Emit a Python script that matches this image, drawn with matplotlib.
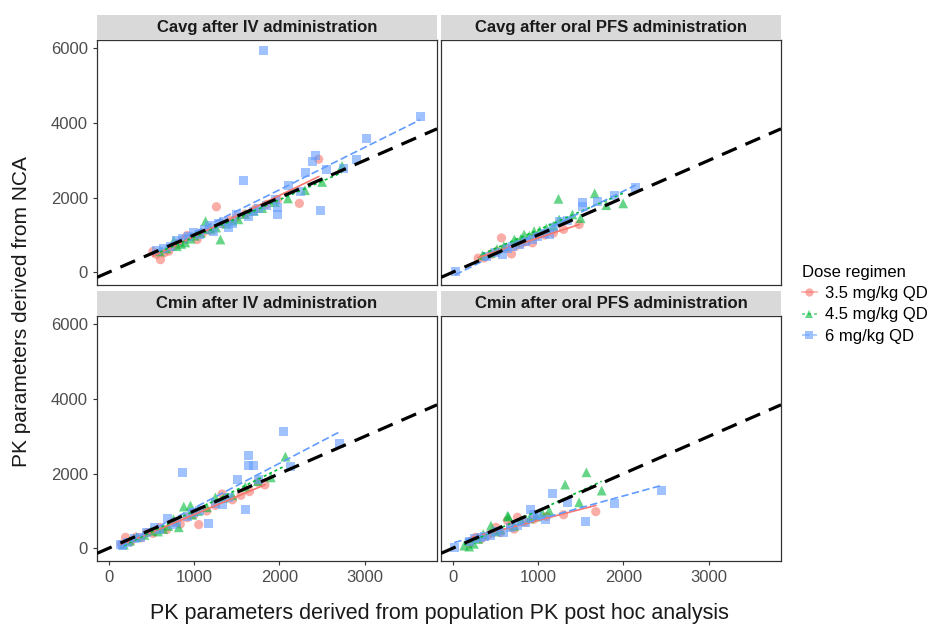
import numpy as np
import matplotlib.pyplot as plt
from matplotlib.lines import Line2D

plt.rcParams['font.family'] = ['Liberation Sans', 'DejaVu Sans']

dose_labels = ['3.5 mg/kg QD', '4.5 mg/kg QD', '6 mg/kg QD']
panel_titles = ['Cavg after IV administration', 'Cavg after oral PFS administration',
                'Cmin after IV administration', 'Cmin after oral PFS administration']
x_ticks = [0, 1000, 2000, 3000]
y_ticks = [0, 2000, 4000, 6000]

# Cavg after IV
cavg_iv_red_x = [520, 560, 608, 650, 705, 760, 820, 880, 920, 1037, 1100, 1180, 1263, 1330, 1420, 1500, 1600, 1720, 1850, 1980, 2234, 2460]
cavg_iv_red_y = [560, 480, 340, 520, 565, 700, 780, 880, 986, 879, 1050, 1130, 1756, 1300, 1400, 1480, 1560, 1700, 1820, 1950, 1847, 3029]
cavg_iv_green_x = [600, 680, 764, 800, 850, 900, 960, 1010, 1080, 1135, 1200, 1260, 1310, 1380, 1450, 1520, 1600, 1700, 1800, 1950, 2100, 2300, 2500, 2733]
cavg_iv_green_y = [560, 640, 852, 700, 760, 800, 900, 980, 1050, 1371, 1150, 1200, 879, 1300, 1380, 1420, 1560, 1650, 1720, 1880, 1980, 2200, 2420, 2849]
cavg_iv_blue_x = [560, 640, 720, 800, 870, 940, 1000, 1060, 1120, 1180, 1230, 1290, 1350, 1400, 1450, 1500, 1583, 1640, 1700, 1760, 1817, 1850,
                  1950, 1973, 1973, 2109, 2245, 2304, 2382, 2421, 2480, 2557, 2752, 2908, 3025, 3649]
cavg_iv_blue_y = [580, 640, 700, 840, 900, 950, 1080, 1000, 1150, 1250, 1100, 1300, 1350, 1200, 1320, 1550, 2464, 1500, 1620, 1700, 5940, 1800,
                  1950, 1729, 1550, 2339, 2177, 2670, 2957, 3118, 1667, 2760, 2777, 3029, 3584, 4167]

# Cavg after oral PFS
cavg_oral_red_x = [300, 370, 450, 520, 573, 620, 690, 740, 800, 860, 936, 975, 1080, 1180, 1300, 1482]
cavg_oral_red_y = [380, 385, 480, 560, 922, 640, 492, 700, 760, 820, 788, 968, 1000, 1050, 1150, 1281]
cavg_oral_green_x = [351, 450, 520, 600, 722, 740, 800, 838, 900, 955, 1020, 1100, 1180, 1240, 1248, 1404, 1500, 1664, 1800, 1997]
cavg_oral_green_y = [457, 520, 620, 700, 879, 820, 900, 1013, 980, 1102, 1120, 1180, 1250, 1970, 1416, 1550, 1450, 2116, 1800, 1847]
cavg_oral_blue_x = [30, 400, 500, 585, 640, 700, 780, 850, 936, 1000, 1080, 1131, 1180, 1248, 1350, 1520, 1520, 1700, 1900, 2144]
cavg_oral_blue_y = [30, 420, 520, 476, 650, 700, 745, 820, 879, 950, 1050, 1013, 1200, 1371, 1400, 1770, 1863, 1900, 2050, 2266]

# Cmin after IV
cmin_iv_red_x = [150, 199, 260, 320, 380, 450, 520, 600, 680, 760, 840, 920, 1000, 1056, 1150, 1250, 1330, 1450, 1550, 1650, 1750, 1830]
cmin_iv_red_y = [110, 295, 180, 300, 280, 420, 400, 560, 500, 700, 650, 820, 900, 635, 1000, 1150, 1456, 1300, 1420, 1520, 1770, 1700]
cmin_iv_green_x = [180, 250, 330, 420, 500, 580, 640, 700, 760, 822, 881, 959, 980, 1050, 1150, 1251, 1350, 1450, 1600, 1750, 1900, 2070]
cmin_iv_green_y = [100, 200, 300, 360, 470, 450, 520, 600, 780, 563, 1118, 1145, 900, 1000, 1100, 1367, 1350, 1420, 1650, 1800, 1900, 2458]
cmin_iv_blue_x = [140, 160, 220, 300, 380, 450, 542, 600, 686, 750, 800, 862, 930, 1000, 1060, 1173, 1250, 1330, 1400, 1505,
                  1602, 1641, 1641, 1699, 1750, 2050, 2129, 2702]
cmin_iv_blue_y = [99, 72, 150, 250, 300, 420, 563, 500, 788, 650, 700, 2038, 850, 950, 1000, 670, 1200, 1172, 1350, 1831,
                  1027, 2500, 2232, 2232, 1850, 3137, 2190, 2815]

# Cmin after oral PFS
cmin_oral_red_x = [200, 272, 331, 400, 460, 507, 560, 643, 680, 722, 760, 850, 950, 1100, 1300, 1677]
cmin_oral_red_y = [130, 295, 250, 320, 400, 563, 420, 742, 600, 515, 832, 700, 780, 850, 900, 983]
cmin_oral_green_x = [137, 195, 250, 300, 360, 449, 500, 560, 643, 655, 720, 800, 900, 980, 1050, 1131, 1318, 1482, 1567, 1746]
cmin_oral_green_y = [72, 46, 120, 250, 380, 609, 450, 500, 871, 850, 600, 750, 800, 850, 950, 1011, 1708, 1233, 2037, 1547]
cmin_oral_blue_x = [20, 200, 260, 330, 380, 449, 520, 600, 680, 760, 850, 916, 950, 1000, 1091, 1170, 1345, 1559, 1891, 2448]
cmin_oral_blue_y = [27, 170, 250, 300, 320, 340, 460, 420, 550, 600, 700, 1027, 900, 850, 760, 1456, 1233, 724, 1188, 1547]

panel_data = [
    [(cavg_iv_red_x, cavg_iv_red_y), (cavg_iv_green_x, cavg_iv_green_y), (cavg_iv_blue_x, cavg_iv_blue_y)],
    [(cavg_oral_red_x, cavg_oral_red_y), (cavg_oral_green_x, cavg_oral_green_y), (cavg_oral_blue_x, cavg_oral_blue_y)],
    [(cmin_iv_red_x, cmin_iv_red_y), (cmin_iv_green_x, cmin_iv_green_y), (cmin_iv_blue_x, cmin_iv_blue_y)],
    [(cmin_oral_red_x, cmin_oral_red_y), (cmin_oral_green_x, cmin_oral_green_y), (cmin_oral_blue_x, cmin_oral_blue_y)],
]

colors = ['#F8766D', '#00BA38', '#619CFF']
markers = ['o', '^', 's']
sizes = [44, 50, 42]
line_styles = ['-', (0, (1.8, 1.8)), (0, (4.5, 2))]

W, H = 936, 628
fig = plt.figure(figsize=(W / 100, H / 100), dpi=100)


def px_axes(x0, y0, x1, y1):
    return fig.add_axes([x0 / W, 1 - y1 / H, (x1 - x0) / W, (y1 - y0) / H])


# panel boxes in pixels (left, top, right, bottom)
boxes = [(97, 40, 437, 285), (441, 40, 781, 285), (97, 316, 437, 561), (441, 316, 781, 561)]

for i, (box, title, groups) in enumerate(zip(boxes, panel_titles, panel_data)):
    ax = px_axes(*box)
    for (gx, gy), c, m, s, ls in zip(groups, colors, markers, sizes, line_styles):
        gx = np.array(gx, dtype=float)
        gy = np.array(gy, dtype=float)
        ax.scatter(gx, gy, s=s, marker=m, color=c, alpha=0.6, edgecolors='none', zorder=2)
        k, b = np.polyfit(gx, gy, 1)
        xs = np.array([gx.min(), gx.max()])
        ax.plot(xs, k * xs + b, color=c, lw=1.2, ls=ls, zorder=3)
    ax.axline((0, 0), slope=1, color='black', lw=2.3, ls=(0, (5, 3)), zorder=4)
    ax.set_xlim(-135, 3845)
    ax.set_ylim(-340, 6225)
    ax.set_xticks(x_ticks)
    ax.set_yticks(y_ticks)
    for sp in ax.spines.values():
        sp.set_color('#333333')
        sp.set_linewidth(0.9)
    ax.tick_params(length=3, width=0.8, color='#333333', labelcolor='#4D4D4D', labelsize=12)
    if i % 2 == 1:
        ax.tick_params(axis='y', left=False, labelleft=False)
    if i < 2:
        ax.tick_params(axis='x', bottom=False, labelbottom=False)

    # facet strip
    st = px_axes(box[0], box[1] - 25, box[2], box[1])
    st.set_facecolor('#D9D9D9')
    st.set_xticks([])
    st.set_yticks([])
    for sp in st.spines.values():
        sp.set_visible(False)
    st.text(0.5, 0.5, title, ha='center', va='center', fontsize=12,
            fontweight='bold', color='#1A1A1A', transform=st.transAxes)

fig.text((97 + 781) / 2 / W, 1 - 613 / H, 'PK parameters derived from population PK post hoc analysis',
         ha='center', va='center', fontsize=15.5, color='#1A1A1A')
fig.text(22 / W, 1 - 312 / H, 'PK parameters derived from NCA', ha='center', va='center',
         rotation=90, fontsize=15, color='#1A1A1A')

handles = [Line2D([0], [0], color=c, ls=ls, lw=1.2, marker=m, markersize=6, alpha=0.6, markeredgewidth=0)
           for c, m, ls in zip(colors, markers, line_styles)]
fig.legend(handles, dose_labels, title='Dose regimen', loc='upper left',
           bbox_to_anchor=(795 / W, 1 - 258 / H), frameon=False, fontsize=12, title_fontsize=12,
           handlelength=0.9, handletextpad=0.5, labelspacing=0.38, alignment='left', borderaxespad=0)

fig.savefig('out.png', dpi=100)
